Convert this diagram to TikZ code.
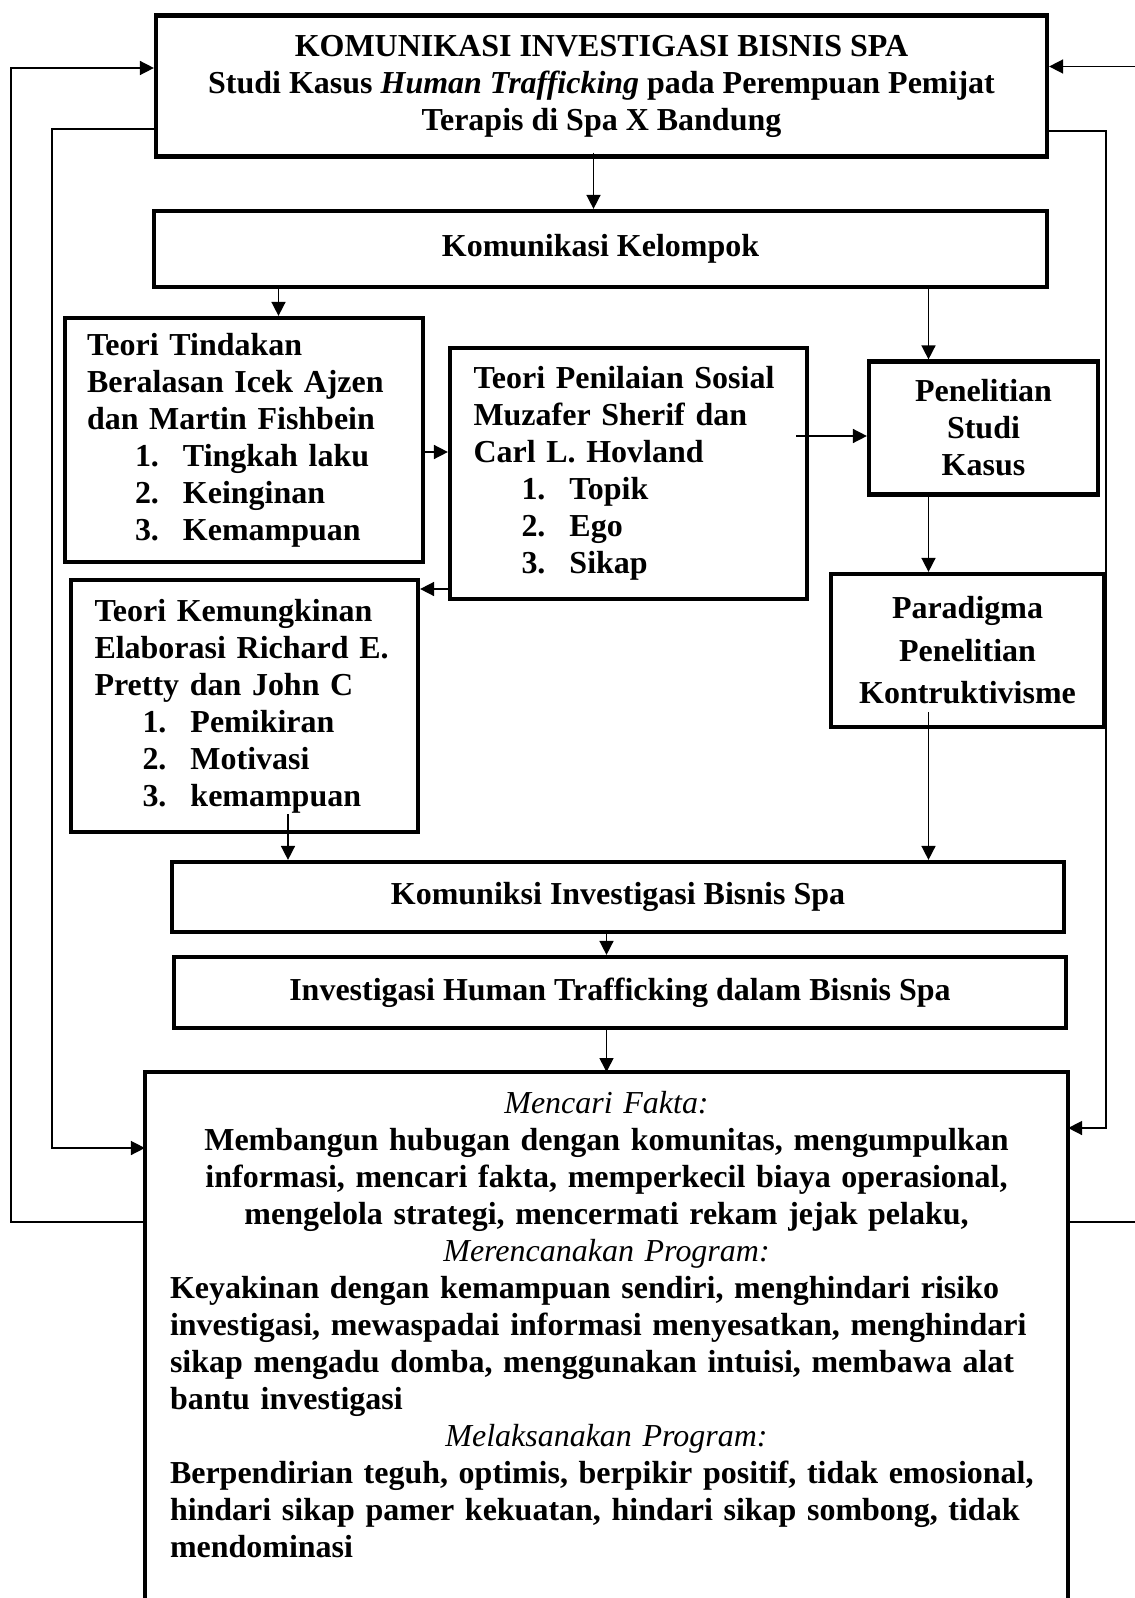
\documentclass[tikz,border=0pt]{standalone}
\usepackage{fontspec}
\setmainfont{Liberation Serif}
\usepackage{tikz}
\usetikzlibrary{arrows.meta}
\newcommand{\hurufisi}{\fontsize{18.2}{21.05}\selectfont\bfseries}
\newcommand{\hurufrenggang}{\fontsize{18.2}{24.2}\selectfont\bfseries}
\newcommand{\butir}[2]{\hspace*{0.96cm}\makebox[0.96cm][l]{#1}#2}
\newcommand{\rata}[2]{\makebox[#1][s]{#2}}
\newcommand{\kiri}[1]{\makebox[17.46cm][l]{#1}}
\newcommand{\subjudul}[1]{{\mdseries\itshape #1}}
\tikzset{
    % Kotak bergaris tebal
    kotak/.style={rectangle, draw=black, line width=2.4pt, inner sep=0pt,
                align=center, font=\hurufisi},
    bingkai/.style={draw=black, line width=2.4pt},
    % Penghubung
    panah/.style={-{Triangle[length=2.8mm, width=2.8mm]}, line width=0.9pt},
    garis/.style={line width=0.9pt},
}

\begin{document}
\begin{tikzpicture}
\useasboundingbox (0,0) rectangle (22.7,-31.96);

\node[kotak, minimum width=17.82cm, minimum height=2.82cm] (judul) at (12.03,-1.72)
    {KOMUNIKASI INVESTIGASI BISNIS SPA\\
     Studi Kasus \textit{Human Trafficking} pada Perempuan Pemijat\\
     Terapis di Spa X Bandung};
\node[kotak, minimum width=17.86cm, minimum height=1.52cm] (kelompok) at (12.01,-4.98)
    {Komunikasi Kelompok};

\node[kotak, minimum width=7.16cm, minimum height=4.88cm, text width=6.28cm, align=left]
    (tindakan) at (4.88,-8.80)
    {Teori Tindakan\\
     Beralasan Icek Ajzen\\
     dan Martin Fishbein\\
     \butir{1.}{Tingkah laku}\\
     \butir{2.}{Keinginan}\\
     \butir{3.}{Kemampuan}};
\node[kotak, minimum width=7.14cm, minimum height=5.02cm, text width=6.2cm, align=left]
    (penilaian) at (12.57,-9.47)
    {\rata{6.2cm}{Teori Penilaian Sosial}\\
     \rata{6.2cm}{Muzafer Sherif dan}\\
     Carl L. Hovland\\
     \butir{1.}{Topik}\\
     \butir{2.}{Ego}\\
     \butir{3.}{Sikap}};
\node[kotak, minimum width=4.58cm, minimum height=2.66cm] (penelitian) at (19.67,-8.56)
    {Penelitian\\Studi\\Kasus};
\node[kotak, minimum width=6.94cm, minimum height=5.04cm, text width=6.0cm, align=left]
    (kemungkinan) at (4.89,-14.12)
    {\rata{6.0cm}{Teori Kemungkinan}\\
     \rata{6.0cm}{Elaborasi Richard E.}\\
     Pretty dan John C\\
     \butir{1.}{Pemikiran}\\
     \butir{2.}{Motivasi}\\
     \butir{3.}{kemampuan}};
\node[kotak, minimum width=5.46cm, minimum height=3.06cm, font=\hurufrenggang]
    (paradigma) at (19.35,-13.01)
    {Paradigma\\Penelitian\\Kontruktivisme};

\node[kotak, minimum width=17.84cm, minimum height=1.40cm] (kibs) at (12.36,-17.94)
    {Komuniksi Investigasi Bisnis Spa};
\node[kotak, minimum width=17.84cm, minimum height=1.42cm] (iht) at (12.40,-19.85)
    {Investigasi Human Trafficking dalam Bisnis Spa};

\node[kotak, draw=none, anchor=north, text width=17.46cm, inner xsep=0.46cm, inner ysep=0.34cm]
    (hasil) at (12.13,-21.44)
    {\subjudul{Mencari Fakta:}\\
     Membangun hubugan dengan komunitas, mengumpulkan\\
     informasi, mencari fakta, memperkecil biaya operasional,\\
     mengelola strategi, mencermati rekam jejak pelaku,\\
     \subjudul{Merencanakan Program:}\\
     \kiri{Keyakinan dengan kemampuan sendiri, menghindari risiko}\\
     \kiri{investigasi, mewaspadai informasi menyesatkan, menghindari}\\
     \kiri{sikap mengadu domba, menggunakan intuisi, membawa alat}\\
     \kiri{bantu investigasi}\\
     \subjudul{Melaksanakan Program:}\\
     \kiri{Berpendirian teguh, optimis, berpikir positif, tidak emosional,}\\
     \kiri{hindari sikap pamer kekuatan, hindari sikap sombong, tidak}\\
     \kiri{mendominasi}};
\coordinate (dasar) at (0,-31.96);
\draw[bingkai] (hasil.north west |- dasar) -- (hasil.north west)
    -- (hasil.north east) -- (hasil.north east |- dasar);

% alur utama
\draw[panah] ([xshift=-0.16cm,yshift=0.12cm]judul.south) -- ([xshift=-0.16cm]judul.south |- kelompok.north);
\draw[panah] ([xshift=0.69cm]tindakan.north |- kelompok.south) -- ([xshift=0.69cm]tindakan.north);
\draw[panah] ([xshift=-1.10cm]penelitian.north |- kelompok.south) -- ([xshift=-1.10cm]penelitian.north);
\draw[panah] ([yshift=-0.24cm]tindakan.east) -- ([yshift=-0.24cm]tindakan.east -| penilaian.west);
\draw[panah] ([xshift=-0.26cm,yshift=0.75cm]penilaian.east) -- ([yshift=0.75cm]penilaian.east -| penelitian.west);
\draw[panah] ([yshift=-2.31cm]penilaian.west) -- ([yshift=-2.31cm]penilaian.west -| kemungkinan.east);
\draw[panah] ([xshift=-1.10cm]penelitian.south) -- ([xshift=-1.10cm]penelitian.south |- paradigma.north);
\draw[panah] ([xshift=0.87cm,yshift=0.4cm]kemungkinan.south) -- ([xshift=0.87cm]kemungkinan.south |- kibs.north);
\draw[panah] ([xshift=-0.78cm,yshift=0.34cm]paradigma.south) -- ([xshift=-0.78cm]paradigma.south |- kibs.north);
\draw[panah] ([xshift=-0.23cm]kibs.south) -- ([xshift=-0.23cm]kibs.south |- iht.north);
\draw[panah] ([xshift=-0.27cm]iht.south) -- ([xshift=-0.27cm]iht.south |- hasil.north);

% umpan balik
\draw[panah] ([yshift=-3.0cm]hasil.north west) -- ++(-2.68,0) |- ([yshift=0.36cm]judul.west);
\draw[panah] ([yshift=-0.86cm]judul.west) -- ++(-2.04,0) |- ([yshift=-1.52cm]hasil.north west);
\draw[panah] ([yshift=-0.90cm]judul.east) -- ++(1.14,0) |- ([yshift=-1.12cm]hasil.north east);
\coordinate (kananatas) at (22.7,-1.33);
\coordinate (kananbawah) at (22.7,-24.44);
\draw[panah] (kananatas) -- (kananatas -| judul.east);
\draw[garis] ([yshift=-3.0cm]hasil.north east) -- (kananbawah);
\end{tikzpicture}
\end{document}
